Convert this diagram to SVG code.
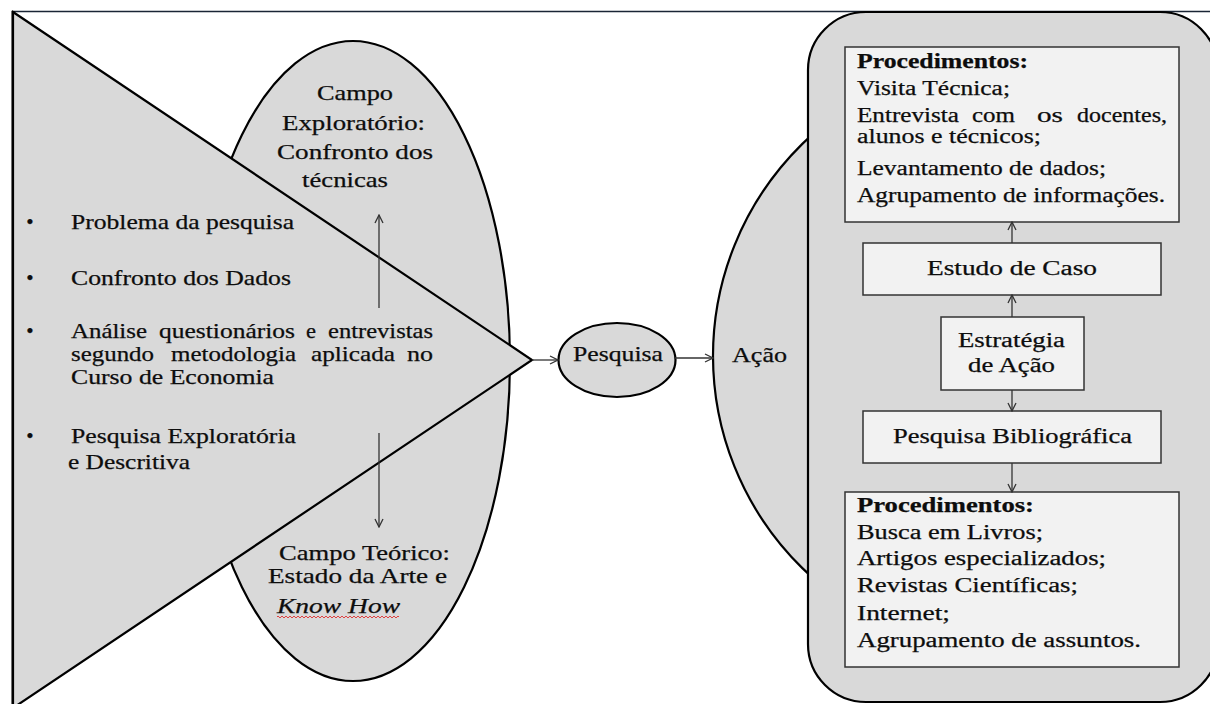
<svg xmlns="http://www.w3.org/2000/svg" width="1210" height="704" viewBox="0 0 1210 704">
<style>
.t{font-family:"Liberation Serif","Times New Roman",serif;font-size:21px;fill:#0d0d0d;stroke:#0d0d0d;stroke-width:0.25}
.s{font-size:20px}
.b{font-weight:bold}
.shape{fill:#d9d9d9;stroke:#000;stroke-width:2.2}
.box{fill:#f2f2f2;stroke:#333;stroke-width:1.5}
.con{stroke:#333;stroke-width:1.3;fill:none;marker-end:url(#ah)}
</style>
<defs>
<marker id="ah" markerWidth="10" markerHeight="10" refX="9" refY="5" orient="auto" markerUnits="userSpaceOnUse">
<path d="M1,1 L9,5 L1,9" fill="none" stroke="#333" stroke-width="1.3"/>
</marker>
</defs>
<rect width="1210" height="704" fill="#fff"/>
<line x1="13" y1="11.5" x2="1210" y2="11.5" stroke="#1a2535" stroke-width="1.5"/>
<line x1="13" y1="11" x2="13" y2="704" stroke="#000" stroke-width="3"/>

<g id="campo">
<ellipse class="shape" cx="353" cy="361" rx="157" ry="320"/>
</g>
<g id="acao">
<ellipse class="shape" cx="1018" cy="356" rx="305" ry="300"/>
<text class="t" x="732" y="362" textLength="55" lengthAdjust="spacingAndGlyphs">Ação</text>
</g>
<g id="triangulo">
<polygon class="shape" points="13,12 532,360 13,708"/>
<text class="t" x="30" y="229" text-anchor="middle">•</text>
<text class="t" x="71" y="229" textLength="223" lengthAdjust="spacingAndGlyphs">Problema da pesquisa</text>
<text class="t" x="30" y="285" text-anchor="middle">•</text>
<text class="t" x="71" y="285" textLength="220" lengthAdjust="spacingAndGlyphs">Confronto dos Dados</text>
<text class="t" x="30" y="338" text-anchor="middle">•</text>
<text class="t" x="71" y="338" textLength="76" lengthAdjust="spacingAndGlyphs">Análise</text>
<text class="t" x="159" y="338" textLength="136" lengthAdjust="spacingAndGlyphs">questionários</text>
<text class="t" x="306" y="338" textLength="10" lengthAdjust="spacingAndGlyphs">e</text>
<text class="t" x="328" y="338" textLength="105" lengthAdjust="spacingAndGlyphs">entrevistas</text>
<text class="t" x="71" y="361" textLength="83" lengthAdjust="spacingAndGlyphs">segundo</text>
<text class="t" x="171" y="361" textLength="125" lengthAdjust="spacingAndGlyphs">metodologia</text>
<text class="t" x="311" y="361" textLength="84" lengthAdjust="spacingAndGlyphs">aplicada</text>
<text class="t" x="407" y="361" textLength="26" lengthAdjust="spacingAndGlyphs">no</text>
<text class="t" x="71" y="384" textLength="203" lengthAdjust="spacingAndGlyphs">Curso de Economia</text>
<text class="t" x="30" y="443" text-anchor="middle">•</text>
<text class="t" x="71" y="443" textLength="225" lengthAdjust="spacingAndGlyphs">Pesquisa Exploratória</text>
<text class="t" x="68" y="469" textLength="122" lengthAdjust="spacingAndGlyphs">e Descritiva</text>
</g>
<g id="campo-exploratorio">
<text class="t" x="317" y="100" textLength="76" lengthAdjust="spacingAndGlyphs">Campo</text>
<text class="t" x="282" y="130" textLength="143" lengthAdjust="spacingAndGlyphs">Exploratório:</text>
<text class="t" x="277" y="159" textLength="156" lengthAdjust="spacingAndGlyphs">Confronto dos</text>
<text class="t" x="302" y="187" textLength="86" lengthAdjust="spacingAndGlyphs">técnicas</text>
</g>
<g id="campo-teorico">
<text class="t" x="279" y="560" textLength="171" lengthAdjust="spacingAndGlyphs">Campo Teórico:</text>
<text class="t" x="268" y="583" textLength="179" lengthAdjust="spacingAndGlyphs">Estado da Arte e</text>
<text class="t" x="277" y="613" font-style="italic" textLength="123" lengthAdjust="spacingAndGlyphs">Know How</text>
<path d="M277,617 q1,-2 2,0 t2,0 t2,0 t2,0 t2,0 t2,0 t2,0 t2,0 t2,0 t2,0 t2,0 t2,0 t2,0 t2,0 t2,0 t2,0 t2,0 t2,0 t2,0 t2,0 t2,0 t2,0 t2,0 t2,0 t2,0 t2,0 t2,0 t2,0 t2,0 t2,0 t2,0 t2,0 t2,0 t2,0 t2,0 t2,0 t2,0 t2,0 t2,0 t2,0 t2,0 t2,0 t2,0 t2,0 t2,0 t2,0 t2,0 t2,0 t2,0 t2,0 t2,0 t2,0 t2,0 t2,0 t2,0 t2,0 t2,0 t2,0 t2,0 t2,0 t2,0" fill="none" stroke="#e03030" stroke-width="0.9"/>
</g>
<g id="pesquisa">
<ellipse class="shape" cx="617" cy="360" rx="58.5" ry="37"/>
<text class="t" x="573" y="361" textLength="90" lengthAdjust="spacingAndGlyphs">Pesquisa</text>
</g>
<g id="painel">
<rect class="shape" x="808" y="12" width="410" height="690" rx="58" ry="58" stroke-width="2.5"/>
</g>
<g id="proc-top">
<rect class="box" x="845" y="47" width="334" height="175"/>
<text class="t s b" x="857" y="68" textLength="171" lengthAdjust="spacingAndGlyphs">Procedimentos:</text>
<text class="t s" x="857" y="95" textLength="153" lengthAdjust="spacingAndGlyphs">Visita Técnica;</text>
<text class="t s" x="857" y="122" textLength="102" lengthAdjust="spacingAndGlyphs">Entrevista</text>
<text class="t s" x="972" y="122" textLength="43" lengthAdjust="spacingAndGlyphs">com</text>
<text class="t s" x="1037" y="122" textLength="26" lengthAdjust="spacingAndGlyphs">os</text>
<text class="t s" x="1077" y="122" textLength="90" lengthAdjust="spacingAndGlyphs">docentes,</text>
<text class="t s" x="857" y="143" textLength="184" lengthAdjust="spacingAndGlyphs">alunos e técnicos;</text>
<text class="t s" x="857" y="175" textLength="249" lengthAdjust="spacingAndGlyphs">Levantamento de dados;</text>
<text class="t s" x="857" y="202" textLength="308" lengthAdjust="spacingAndGlyphs">Agrupamento de informações.</text>
</g>
<g id="estudo-caso">
<rect class="box" x="863" y="243" width="298" height="52"/>
<text class="t s" x="927" y="275" textLength="170" lengthAdjust="spacingAndGlyphs">Estudo de Caso</text>
</g>
<g id="estrategia">
<rect class="box" x="941" y="317" width="143" height="73"/>
<text class="t s" x="958" y="347" textLength="107" lengthAdjust="spacingAndGlyphs">Estratégia</text>
<text class="t s" x="968" y="372" textLength="87" lengthAdjust="spacingAndGlyphs">de Ação</text>
</g>
<g id="pesquisa-bib">
<rect class="box" x="863" y="411" width="298" height="52"/>
<text class="t s" x="893" y="443" textLength="239" lengthAdjust="spacingAndGlyphs">Pesquisa Bibliográfica</text>
</g>
<g id="proc-bottom">
<rect class="box" x="845" y="492" width="334" height="175"/>
<text class="t s b" x="857" y="512" textLength="177" lengthAdjust="spacingAndGlyphs">Procedimentos:</text>
<text class="t s" x="857" y="539" textLength="186" lengthAdjust="spacingAndGlyphs">Busca em Livros;</text>
<text class="t s" x="857" y="565" textLength="249" lengthAdjust="spacingAndGlyphs">Artigos especializados;</text>
<text class="t s" x="857" y="592" textLength="221" lengthAdjust="spacingAndGlyphs">Revistas Científicas;</text>
<text class="t s" x="857" y="620" textLength="93" lengthAdjust="spacingAndGlyphs">Internet;</text>
<text class="t s" x="857" y="647" textLength="284" lengthAdjust="spacingAndGlyphs">Agrupamento de assuntos.</text>
</g>
<g id="connectors">
<line class="con" x1="532" y1="360" x2="558" y2="360"/>
<line class="con" x1="675" y1="358" x2="713" y2="358"/>
<line class="con" x1="379" y1="308" x2="379" y2="215"/>
<line class="con" x1="379" y1="433" x2="379" y2="527"/>
<line class="con" x1="1012" y1="243" x2="1012" y2="222"/>
<line class="con" x1="1012" y1="317" x2="1012" y2="295"/>
<line class="con" x1="1012" y1="390" x2="1012" y2="411"/>
<line class="con" x1="1012" y1="463" x2="1012" y2="492"/>
</g>
</svg>
